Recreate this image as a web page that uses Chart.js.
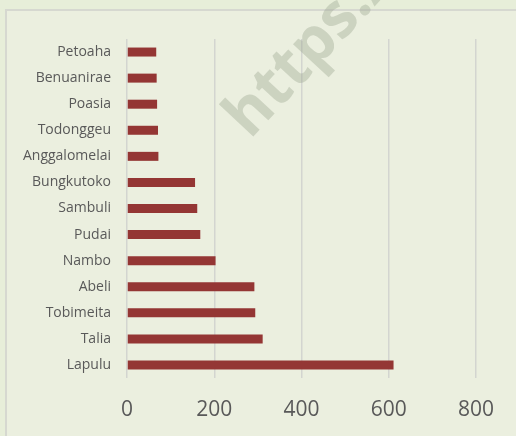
<!DOCTYPE html>
<html>
<head>
<meta charset="utf-8">
<script src="https://cdn.jsdelivr.net/npm/chart.js@4"></script>
<style>
  html, body { margin: 0; padding: 0; }
  body { width: 516px; height: 436px; background: #e7eed9; overflow: hidden; position: relative; }
  #frame { position: absolute; left: 5px; top: 9px; width: 520px; height: 440px;
           border-left: 2px solid #d6d8d0; border-top: 2px solid #d6d8d0; background: #ebefdf; }
  #wrap { position: absolute; left: 0; top: 0; width: 516px; height: 436px; }
</style>
</head>
<body>
<div id="frame"></div>
<div id="wrap"><canvas id="barChart" width="516" height="436"></canvas></div>
<script>
const places = ['Petoaha', 'Benuanirae', 'Poasia', 'Todonggeu', 'Anggalomelai', 'Bungkutoko',
  'Sambuli', 'Pudai', 'Nambo', 'Abeli', 'Tobimeita', 'Talia', 'Lapulu'];
const counts = [67, 68, 69, 71, 72, 156, 161, 168, 203, 292, 294, 311, 611];
const xTicks = [0, 200, 400, 600, 800];

// faint diagonal watermark
const watermark = {
  id: 'watermark',
  afterDatasetsDraw(chart) {
    const ctx = chart.ctx;
    ctx.save();
    ctx.translate(250, 140);
    ctx.rotate(-47 * Math.PI / 180);
    ctx.font = 'bold 62px "Open Sans"';
    ctx.fillStyle = 'rgba(150,162,138,0.36)';
    ctx.textAlign = 'left';
    ctx.textBaseline = 'alphabetic';
    ctx.fillText('https://', 0, 0);
    ctx.restore();
  }
};

document.addEventListener('DOMContentLoaded', function () {
  const ctx = document.getElementById('barChart').getContext('2d');
  new Chart(ctx, {
    type: 'bar',
    data: {
      labels: places,
      datasets: [{
        data: counts,
        backgroundColor: '#943634',
        borderWidth: 0,
        categoryPercentage: 1,
        barPercentage: 0.345
      }]
    },
    plugins: [watermark],
    options: {
      indexAxis: 'y',
      responsive: false,
      animation: false,
      layout: { padding: { top: 39, right: 40, bottom: 0, left: 0 } },
      plugins: { legend: { display: false }, tooltip: { enabled: false } },
      scales: {
        x: {
          min: 0,
          max: 800,
          afterBuildTicks: scale => { scale.ticks = xTicks.map(v => ({ value: v })); },
          afterFit: scale => { scale.height = 58; },
          border: { display: false },
          grid: { color: '#d3d5d0', lineWidth: 1.5, drawTicks: false },
          ticks: { padding: 19, color: '#595959', font: { family: 'Open Sans', size: 21 } }
        },
        y: {
          afterFit: scale => { scale.width = 127; },
          border: { display: false },
          grid: { display: false, drawTicks: false },
          ticks: { padding: 16, color: '#595959', font: { family: 'Open Sans', size: 14 } }
        }
      }
    }
  });
});
</script>
</body>
</html>
